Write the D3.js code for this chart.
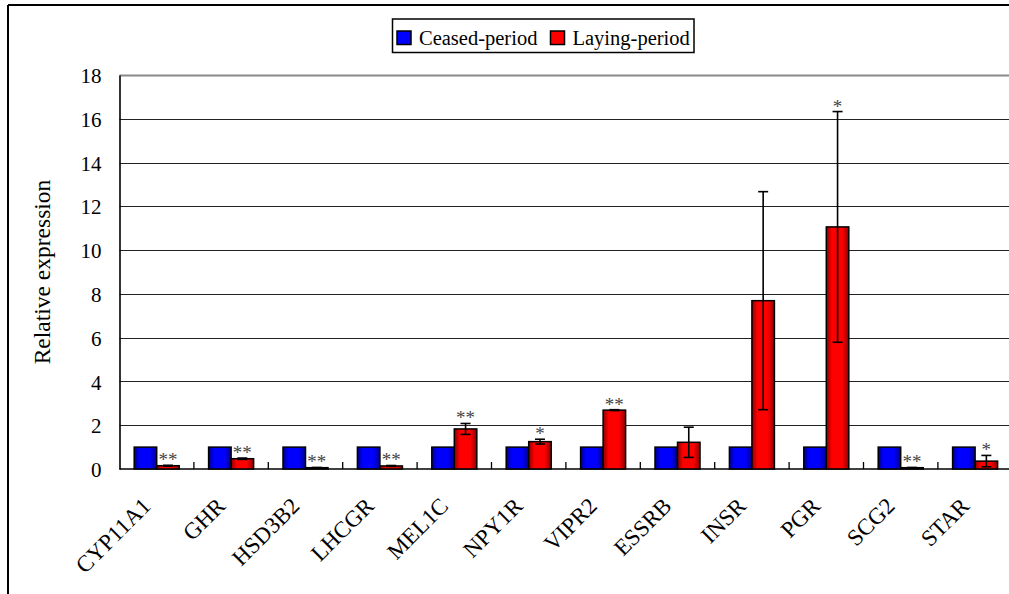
<!DOCTYPE html>
<html>
<head>
<meta charset="utf-8">
<script src="https://cdn.jsdelivr.net/npm/d3@7/dist/d3.min.js"></script>
<style>
  html, body { margin: 0; padding: 0; background: #fff; }
  svg { display: block; }
  text { font-family: "Liberation Serif", "Times New Roman", serif; fill: #000; }
</style>
</head>
<body>
<svg id="chart" width="1009" height="594"></svg>
<script>
// Gene panel and relative expression (mean, error) for the two periods
const genes = ["CYP11A1", "GHR", "HSD3B2", "LHCGR", "MEL1C", "NPY1R", "VIPR2", "ESSRB", "INSR", "PGR", "SCG2", "STAR"];
const ceasedValues = [1, 1, 1, 1, 1, 1, 1, 1, 1, 1, 1, 1];
const layingValues = [0.15, 0.47, 0.06, 0.14, 1.83, 1.25, 2.69, 1.22, 7.69, 11.06, 0.06, 0.36];
const layingErrors = [0.02, 0.03, 0.01, 0.02, 0.25, 0.11, 0.02, 0.69, 4.98, 5.27, 0.01, 0.26];
const significance = ["**", "**", "**", "**", "**", "*", "**", "", "", "*", "**", "*"];
const yTicks = [0, 2, 4, 6, 8, 10, 12, 14, 16, 18];
const seriesNames = ["Ceased-period", "Laying-period"];

const SERIF = "'Liberation Serif', 'Times New Roman', serif";
const svg = d3.select("#chart");
const plot = { left: 119.5, top: 75, bottom: 469, right: 1012.3 };

const x = d3.scaleBand().domain(genes).range([plot.left, plot.right]).padding(0);
const y = d3.scaleLinear().domain([0, 18]).range([plot.bottom, plot.top]);

const bw = x.bandwidth();
const barW = bw * 0.3025;
const barOff = bw * 0.1976;

// bar gradients: darker edges, bright centre
const defs = svg.append("defs");
function grad(id, edge, mid) {
  const g = defs.append("linearGradient").attr("id", id).attr("x1", "0").attr("x2", "1").attr("y1", "0").attr("y2", "0");
  g.append("stop").attr("offset", "0%").attr("stop-color", edge);
  g.append("stop").attr("offset", "25%").attr("stop-color", mid);
  g.append("stop").attr("offset", "70%").attr("stop-color", mid);
  g.append("stop").attr("offset", "100%").attr("stop-color", edge);
}
grad("gBlue", "#00008c", "#0000ff");
grad("gRed", "#8c0000", "#ff0000");

// outer frame (top and left edges)
svg.append("line").attr("x1", 8).attr("x2", 1009).attr("y1", 5).attr("y2", 5)
  .attr("stroke", "#000").attr("stroke-width", 2);
svg.append("line").attr("x1", 8).attr("x2", 8).attr("y1", 5).attr("y2", 594)
  .attr("stroke", "#000").attr("stroke-width", 2);

// gridlines
svg.append("g").selectAll("line").data(yTicks.filter(d => d > 0)).join("line")
  .attr("x1", plot.left).attr("x2", 1009)
  .attr("y1", d => Math.round(y(d)) + 0.5).attr("y2", d => Math.round(y(d)) + 0.5)
  .attr("stroke", d => d === 18 ? "#8a8a8a" : "#222")
  .attr("stroke-width", d => d === 18 ? 1.8 : 1.2);

// y axis
const yAxis = d3.axisLeft(y).tickValues(yTicks).tickSize(0).tickPadding(18).tickFormat(d3.format("d"));
const gy = svg.append("g").attr("transform", `translate(${plot.left},0)`).call(yAxis)
  .attr("font-family", SERIF).attr("font-size", 21);
gy.select(".domain").attr("stroke", "#000").attr("stroke-width", 1.6);
gy.selectAll("text").attr("dy", "0.36em").attr("fill", "#000");

// x axis baseline and boundary ticks
svg.append("line").attr("x1", plot.left).attr("x2", 1009).attr("y1", plot.bottom).attr("y2", plot.bottom)
  .attr("stroke", "#000").attr("stroke-width", 1.6);
svg.append("g").selectAll("line").data(genes.slice(1)).join("line")
  .attr("x1", d => x(d)).attr("x2", d => x(d))
  .attr("y1", plot.bottom).attr("y2", plot.bottom - 7)
  .attr("stroke", "#000").attr("stroke-width", 1.3);

// category labels, rotated
svg.append("g").selectAll("text").data(genes).join("text")
  .attr("transform", d => `translate(${x(d) + bw / 2 - 16},${plot.bottom + 27}) rotate(-45)`)
  .attr("text-anchor", "end")
  .attr("dy", "0.7em")
  .style("font-size", "23px")
  .text(d => d);

// y axis title
svg.append("text")
  .attr("transform", `translate(50,${(plot.top + plot.bottom) / 2}) rotate(-90)`)
  .attr("text-anchor", "middle")
  .style("font-size", "23.5px")
  .text("Relative expression");

// bars
const bars = svg.append("g");
bars.selectAll("rect.ceased").data(genes).join("rect").attr("class", "ceased")
  .attr("x", d => x(d) + barOff).attr("width", barW)
  .attr("y", (d, i) => y(ceasedValues[i])).attr("height", (d, i) => y(0) - y(ceasedValues[i]))
  .attr("fill", "url(#gBlue)").attr("stroke", "#000").attr("stroke-width", 1.5);
bars.selectAll("rect.laying").data(genes).join("rect").attr("class", "laying")
  .attr("x", d => x(d) + barOff + barW).attr("width", barW)
  .attr("y", (d, i) => y(layingValues[i])).attr("height", (d, i) => y(0) - y(layingValues[i]))
  .attr("fill", "url(#gRed)").attr("stroke", "#000").attr("stroke-width", 1.5);

// error bars on laying-period
const eb = svg.append("g").attr("stroke", "#000").attr("stroke-width", 1.6);
genes.forEach((g, i) => {
  const cx = x(g) + barOff + barW * 1.5;
  const hi = y(layingValues[i] + layingErrors[i]);
  const lo = y(Math.max(0, layingValues[i] - layingErrors[i]));
  eb.append("line").attr("x1", cx).attr("x2", cx).attr("y1", hi).attr("y2", lo);
  eb.append("line").attr("x1", cx - 5).attr("x2", cx + 5).attr("y1", hi).attr("y2", hi);
  eb.append("line").attr("x1", cx - 5).attr("x2", cx + 5).attr("y1", lo).attr("y2", lo);
});

// significance marks
svg.append("g").selectAll("text").data(genes).join("text")
  .attr("x", d => x(d) + barOff + barW * 1.5)
  .attr("y", (d, i) => y(layingValues[i] + layingErrors[i]) + 1)
  .attr("text-anchor", "middle")
  .style("font-size", "19px")
  .style("fill", "#444")
  .text((d, i) => significance[i]);

// legend
const lg = svg.append("g");
lg.append("rect").attr("x", 392.5).attr("y", 19).attr("width", 301.5).attr("height", 33.5)
  .attr("fill", "#fff").attr("stroke", "#000").attr("stroke-width", 1.5);
const legendItems = [
  { name: seriesNames[0], fill: "#0000ff", x: 397 },
  { name: seriesNames[1], fill: "#ff0000", x: 550.5 }
];
legendItems.forEach(it => {
  lg.append("rect").attr("x", it.x).attr("y", 31).attr("width", 14).attr("height", 13.5)
    .attr("fill", it.fill).attr("stroke", "#000").attr("stroke-width", 1.5);
  lg.append("text").attr("x", it.x + 22).attr("y", 44.5).style("font-size", "20.5px").text(it.name);
});
</script>
</body>
</html>
